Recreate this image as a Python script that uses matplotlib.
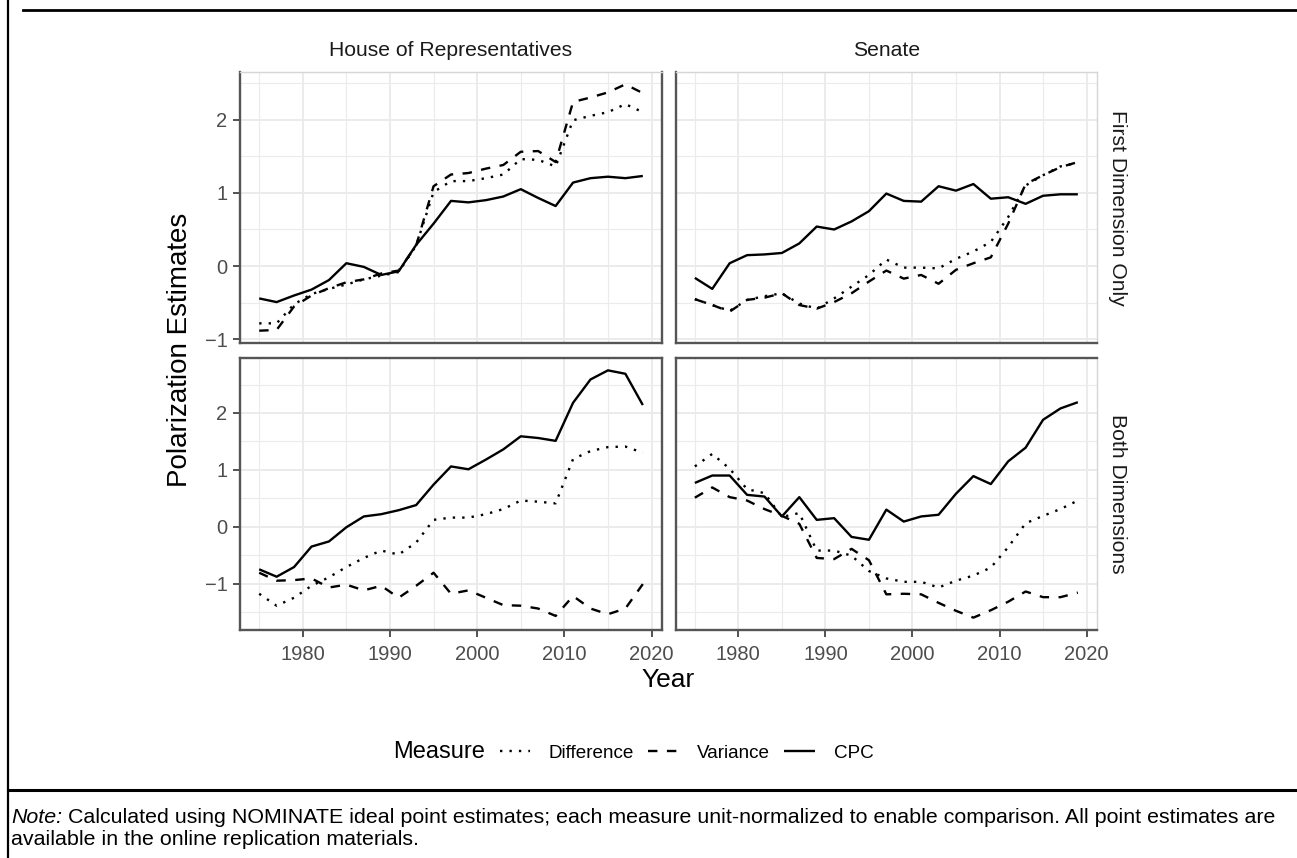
import matplotlib
matplotlib.use("Agg")
import matplotlib.pyplot as plt
from matplotlib.lines import Line2D
from matplotlib.ticker import MultipleLocator

years=[1975,1977,1979,1981,1983,1985,1987,1989,1991,1993,1995,1997,1999,2001,2003,2005,2007,2009,2011,2013,2015,2017,2019]
chambers=["House of Representatives","Senate"]
dimensions=["First Dimension Only","Both Dimensions"]
measures=["Difference","Variance","CPC"]

# first dimension only
house_1d_diff=[-0.78,-0.78,-0.52,-0.38,-0.31,-0.25,-0.18,-0.13,-0.08,0.28,1.01,1.16,1.16,1.20,1.25,1.46,1.45,1.36,1.99,2.05,2.10,2.21,2.10]
house_1d_var=[-0.88,-0.87,-0.55,-0.40,-0.30,-0.22,-0.18,-0.10,-0.06,0.28,1.09,1.25,1.27,1.33,1.38,1.56,1.57,1.42,2.24,2.30,2.37,2.48,2.36]
house_1d_cpc=[-0.44,-0.49,-0.40,-0.32,-0.19,0.04,-0.01,-0.12,-0.07,0.29,0.58,0.89,0.87,0.90,0.95,1.05,0.93,0.82,1.14,1.20,1.22,1.20,1.23]
senate_1d_diff=[-0.45,-0.53,-0.61,-0.46,-0.41,-0.37,-0.51,-0.58,-0.44,-0.28,-0.12,0.09,-0.02,-0.02,-0.03,0.10,0.20,0.33,0.67,1.10,1.24,1.36,1.41]
senate_1d_var=[-0.45,-0.53,-0.62,-0.46,-0.43,-0.37,-0.53,-0.58,-0.49,-0.37,-0.21,-0.06,-0.17,-0.12,-0.24,-0.05,0.04,0.12,0.58,1.12,1.24,1.35,1.42]
senate_1d_cpc=[-0.16,-0.31,0.04,0.15,0.16,0.18,0.31,0.54,0.50,0.61,0.75,0.99,0.89,0.88,1.09,1.03,1.12,0.92,0.94,0.85,0.96,0.98,0.98]
# both dimensions
house_2d_diff=[-1.18,-1.39,-1.25,-1.04,-0.89,-0.71,-0.55,-0.42,-0.49,-0.28,0.12,0.16,0.16,0.22,0.31,0.46,0.44,0.41,1.19,1.33,1.40,1.41,1.30]
house_2d_var=[-0.81,-0.95,-0.94,-0.91,-1.07,-1.02,-1.12,-1.04,-1.25,-1.04,-0.81,-1.18,-1.12,-1.25,-1.38,-1.39,-1.44,-1.57,-1.22,-1.44,-1.54,-1.44,-1.01]
house_2d_cpc=[-0.75,-0.88,-0.71,-0.35,-0.26,-0.01,0.18,0.22,0.29,0.38,0.74,1.06,1.01,1.18,1.36,1.59,1.56,1.51,2.18,2.59,2.75,2.69,2.14]
senate_2d_diff=[1.06,1.28,1.02,0.66,0.59,0.17,0.24,-0.42,-0.42,-0.51,-0.78,-0.91,-0.97,-0.97,-1.07,-0.95,-0.86,-0.72,-0.36,0.06,0.19,0.31,0.46]
senate_2d_var=[0.51,0.69,0.52,0.46,0.31,0.19,0.05,-0.55,-0.57,-0.39,-0.59,-1.19,-1.18,-1.19,-1.34,-1.48,-1.60,-1.47,-1.32,-1.14,-1.24,-1.24,-1.16]
senate_2d_cpc=[0.77,0.90,0.90,0.56,0.53,0.18,0.52,0.12,0.15,-0.18,-0.23,0.30,0.09,0.18,0.21,0.58,0.89,0.75,1.15,1.39,1.88,2.08,2.19]

panels={(0,0):[house_1d_diff,house_1d_var,house_1d_cpc],(0,1):[senate_1d_diff,senate_1d_var,senate_1d_cpc],
        (1,0):[house_2d_diff,house_2d_var,house_2d_cpc],(1,1):[senate_2d_diff,senate_2d_var,senate_2d_cpc]}
dashes={"Difference":(1,3),"Variance":(4,4),"CPC":None}

plt.rcParams["font.family"]=["Liberation Sans","DejaVu Sans"]
W,H=1297,858
fig=plt.figure(figsize=(W/100,H/100),dpi=100)
def rect(l,t,r,b):return [l/W,1-b/H,(r-l)/W,(b-t)/H]
boxes={(0,0):(240,72,662,343),(0,1):(675.7,72,1097,343),(1,0):(240,358,662,630),(1,1):(675.7,358,1097,630)}
light={(0,0):["top"],(0,1):["top","right"],(1,0):[],(1,1):["right"]}
dark,pale="#555555","#d6d6d6"

axes={}
for (r,c),box in boxes.items():
    kw={}
    if c==1:kw["sharey"]=axes[(r,0)]
    if (r,c)!=(0,0):kw["sharex"]=axes[(0,0)]
    ax=fig.add_axes(rect(*box),**kw);axes[(r,c)]=ax
    for name,vals in zip(measures,panels[(r,c)]):
        line,=ax.plot(years,vals,color="black",lw=1.7,solid_capstyle="butt",dash_capstyle="butt")
        if dashes[name]:line.set_dashes(dashes[name])
    ax.xaxis.set_major_locator(MultipleLocator(10));ax.xaxis.set_minor_locator(MultipleLocator(5))
    ax.yaxis.set_major_locator(MultipleLocator(1));ax.yaxis.set_minor_locator(MultipleLocator(0.5))
    ax.grid(which="major",color="#ebebeb",lw=1.4);ax.grid(which="minor",color="#ebebeb",lw=0.8);ax.set_axisbelow(True)
    ax.tick_params(which="minor",length=0)
    ax.tick_params(which="major",length=5,width=1.3,color="#444444",labelcolor="#4d4d4d",labelsize=14.5)
    ax.tick_params(axis="y",pad=4);ax.tick_params(axis="x",pad=6)
    for side,sp in ax.spines.items():
        sp.set_color(pale if side in light[(r,c)] else dark);sp.set_linewidth(1.0 if side in light[(r,c)] else 1.7)
    if c==1:ax.tick_params(axis="y",length=0,labelleft=False)
    if r==0:ax.tick_params(axis="x",length=0,labelbottom=False)
    if r==0:ax.text(0.5,1+21/271,chambers[c],transform=ax.transAxes,ha="center",va="center",fontsize=15.2,color="#1a1a1a")
    if c==1:ax.text(1+(1118-1097)/421.3,0.5,dimensions[r],transform=ax.transAxes,ha="center",va="center",rotation=-90,fontsize=15.2,color="#1a1a1a")

fig.text(180/W,1-350/H,"Polarization Estimates",rotation=90,ha="center",va="center",fontsize=20)
fig.text(668.5/W,1-680/H,"Year",ha="center",va="center",fontsize=19)

handles=[Line2D([],[],color="black",lw=1.7,solid_capstyle="butt",dash_capstyle="butt") for _ in measures]
for h,name in zip(handles,measures):
    if dashes[name]:h.set_dashes(dashes[name])
fig.text(393/W,1-752/H,"Measure",ha="left",va="center",fontsize=17)
fig.legend(handles,measures,loc="center left",bbox_to_anchor=(492/W,1-753/H),ncol=3,frameon=False,fontsize=13.6,
           handlelength=1.6,handletextpad=1.0,columnspacing=0.75,borderpad=0.4,borderaxespad=0)

# frame lines of the page
fig.add_artist(Line2D([8/W,8/W],[0,1],color="black",lw=1.6,transform=fig.transFigure))
fig.add_artist(Line2D([23/W,1],[1-10/H,1-10/H],color="black",lw=2.0,transform=fig.transFigure))
fig.add_artist(Line2D([8/W,1],[1-790/H,1-790/H],color="black",lw=2.2,transform=fig.transFigure))

note=fig.text(11/W,1-823/H,"Note:",style="italic",fontsize=15.4,va="baseline")
fig.canvas.draw()
bb=note.get_window_extent()
fig.text(bb.x1/W,1-823/H," Calculated using NOMINATE ideal point estimates; each measure unit-normalized to enable comparison. All point estimates are",fontsize=15.4,va="baseline")
fig.text(11/W,1-845/H,"available in the online replication materials.",fontsize=15.4,va="baseline")

fig.savefig("out.png",dpi=100)
